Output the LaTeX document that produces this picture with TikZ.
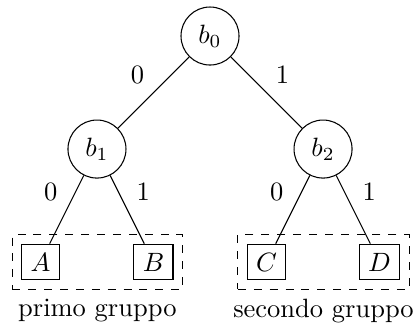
\documentclass[tikz,border=0pt]{standalone}
\usetikzlibrary{fit}
\begin{document}
\begin{tikzpicture}[
  bit/.style={draw, circle, minimum size=7.7mm, inner sep=0pt},
  leaf/.style={draw, rectangle},
  group/.style={draw, dashed}]
\useasboundingbox (-2.787,0.478) rectangle (2.707,-3.822);

% bit nodes
\node[bit] (b0) at (0,0) {$b_0$};
\node[bit] (b1) at (-1.5,-1.5) {$b_1$};
\node[bit] (b2) at (1.5,-1.5) {$b_2$};

% leaves
\node[leaf] (A) at (-2.25,-3) {$A$};
\node[leaf] (B) at (-0.75,-3) {$B$};
\node[leaf] (C) at (0.75,-3) {$C$};
\node[leaf] (D) at (2.25,-3) {$D$};

% edges
\draw (b0) -- (b1) node[midway, above left] (l0) {$0$};
\draw (b0) -- (b2) node[midway, above right] (l1) {$1$};
\draw (b1) -- (A) node[midway, above left] (l2) {$0$};
\draw (b1) -- (B) node[midway, above right] (l3) {$1$};
\draw (b2) -- (C) node[midway, above left] (l4) {$0$};
\draw (b2) -- (D) node[midway, above right] (l5) {$1$};

% groups
\node[group, fit=(A)(B)] (g1) {};
\node[below] (t1) at (g1.south) {primo gruppo};
\node[group, fit=(C)(D)] (g2) {};
\node[below] (t2) at (g2.south) {secondo gruppo};

\end{tikzpicture}
\end{document}
